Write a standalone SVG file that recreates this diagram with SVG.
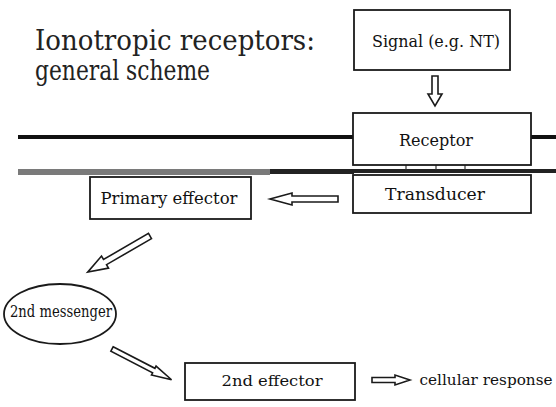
<svg xmlns="http://www.w3.org/2000/svg" width="556" height="407" viewBox="0 0 556 407">
<style>
  .box { fill: #ffffff; stroke: #1a1a1a; stroke-width: 1.8; }
  .lbl { font-family: 'DejaVu Serif', 'Liberation Serif', 'Times New Roman', serif; fill: #111; text-anchor: middle; }
  .title { font-family: 'DejaVu Serif', 'Liberation Serif', 'Times New Roman', serif; fill: #222; font-size: 27px; }
  .arr { fill: #ffffff; stroke: #1a1a1a; stroke-width: 1.6; stroke-linejoin: miter; }
</style>
<rect width="556" height="407" fill="#ffffff"/>

<g id="title">
  <text class="title" x="35" y="50" textLength="280" lengthAdjust="spacingAndGlyphs">Ionotropic receptors:</text>
  <text class="title" x="35" y="80" textLength="175" lengthAdjust="spacingAndGlyphs">general scheme</text>
</g>

<g id="membrane">
  <rect x="18" y="135" width="336" height="4" fill="#111"/>
  <rect x="530" y="135" width="26" height="4" fill="#111"/>
  <rect x="18" y="169" width="252" height="6" fill="#7a7a7a"/>
  <rect x="270" y="169" width="84" height="5" fill="#222"/>
  <rect x="354" y="169" width="202" height="4" fill="#222"/>
  <g stroke="#333" stroke-width="1.2">
    <line x1="406" y1="165" x2="406" y2="170"/>
    <line x1="436" y1="165" x2="436" y2="170"/>
    <line x1="465" y1="165" x2="465" y2="170"/>
  </g>
</g>

<g id="signal">
  <rect class="box" x="354" y="10" width="156" height="60"/>
  <text class="lbl" x="436" y="47" font-size="16" textLength="128" lengthAdjust="spacingAndGlyphs">Signal (e.g. NT)</text>
</g>

<g id="receptor">
  <rect class="box" x="353" y="113" width="178" height="52"/>
  <text class="lbl" x="436" y="146" font-size="16" textLength="74" lengthAdjust="spacingAndGlyphs">Receptor</text>
</g>

<g id="transducer">
  <rect class="box" x="353" y="175" width="178" height="38"/>
  <text class="lbl" x="435" y="200" font-size="16" textLength="100" lengthAdjust="spacingAndGlyphs">Transducer</text>
</g>

<g id="primary-effector">
  <rect class="box" x="90" y="177" width="161" height="42"/>
  <text class="lbl" x="169" y="204" font-size="17" textLength="137" lengthAdjust="spacingAndGlyphs">Primary effector</text>
</g>

<g id="second-messenger">
  <ellipse class="box" cx="60" cy="314" rx="56" ry="30"/>
  <text class="lbl" x="61" y="317" font-size="16" textLength="102" lengthAdjust="spacingAndGlyphs">2nd messenger</text>
</g>

<g id="second-effector">
  <rect class="box" x="185" y="363" width="170" height="37"/>
  <text class="lbl" x="272" y="386" font-size="15" textLength="101" lengthAdjust="spacingAndGlyphs">2nd effector</text>
</g>

<g id="cellular-response">
  <text class="lbl" x="486" y="385" font-size="15" textLength="133" lengthAdjust="spacingAndGlyphs">cellular response</text>
</g>

<g id="connectors">
  <polygon class="arr" points="432,76 438,76 438,94 442,94 435,106 428,94 432,94"/>
  <polygon class="arr" points="338,196 292,196 292,193 270,199 292,205 292,202 338,202"/>
  <polygon class="arr" transform="translate(150,236) rotate(149.9)" points="0,-3 52,-3 52,-7 72,0 52,7 52,3 0,3"/>
  <polygon class="arr" transform="translate(112,349) rotate(27.3)" points="0,-2.5 47,-2.5 47,-5 67,0 47,5 47,2.5 0,2.5"/>
  <polygon class="arr" points="372,377.5 395,377.5 395,375 410,380 395,385 395,382.5 372,382.5"/>
</g>
</svg>
